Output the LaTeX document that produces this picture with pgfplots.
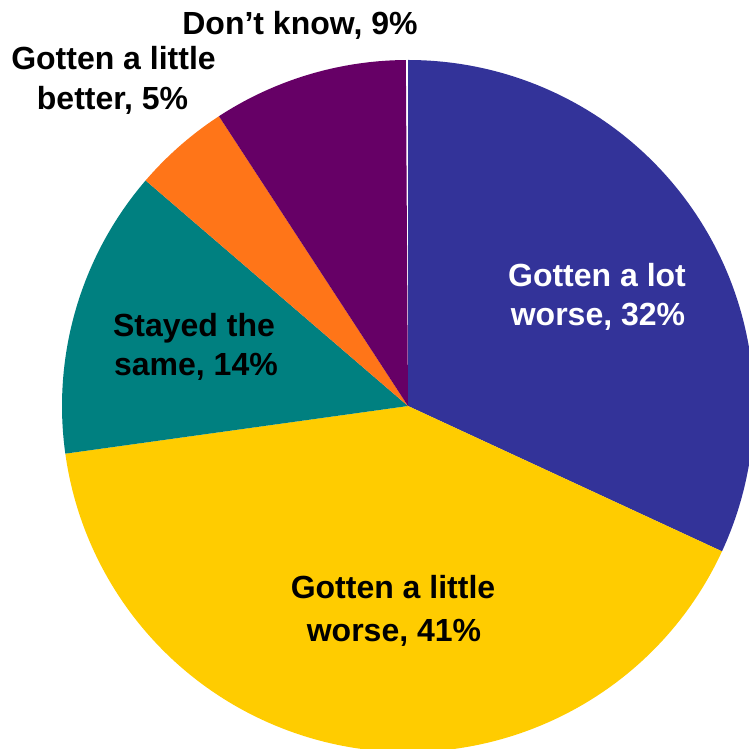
\documentclass[border=0pt]{standalone}
\usepackage{pgfplots}
\pgfplotsset{compat=1.18}
\usepackage{pgfplotstable}
\usepackage{fontspec}
\setmainfont{Liberation Sans}
\definecolor{clot}{HTML}{333399}
\definecolor{clittle}{HTML}{FFCC00}
\definecolor{csame}{HTML}{008080}
\definecolor{cbetter}{HTML}{FF7518}
\definecolor{cdk}{HTML}{660066}
\pgfplotstableread{
idx value
0 31.9
1 40.9
2 13.5
3 4.5
4 9.1
}\piedata
\begin{document}
\begin{tikzpicture}
\pgfplotstablegetelem{0}{value}\of\piedata \let\vA\pgfplotsretval
\pgfplotstablegetelem{1}{value}\of\piedata \let\vB\pgfplotsretval
\pgfplotstablegetelem{2}{value}\of\piedata \let\vC\pgfplotsretval
\pgfplotstablegetelem{3}{value}\of\piedata \let\vD\pgfplotsretval
\pgfplotstablegetelem{4}{value}\of\piedata \let\vE\pgfplotsretval
\pgfmathsetmacro\aA{90}
\pgfmathsetmacro\aB{\aA-3.6*\vA}
\pgfmathsetmacro\aC{\aB-3.6*\vB}
\pgfmathsetmacro\aD{\aC-3.6*\vC}
\pgfmathsetmacro\aE{\aD-3.6*\vD}
\pgfmathsetmacro\aF{\aE-3.6*\vE}
\def\R{346pt}
\useasboundingbox (0,0) rectangle (749pt,749pt);
\begin{axis}[
  at={(0,0)}, anchor=south west,
  scale only axis, width=749pt, height=749pt,
  xmin=0, xmax=749, ymin=0, ymax=749,
  hide axis, clip=true,
]
\fill[clot] (axis cs:408,343) -- ++(\aA:\R) arc[start angle=\aA, end angle=\aB, radius=\R] -- cycle;
\fill[clittle] (axis cs:408,343) -- ++(\aB:\R) arc[start angle=\aB, end angle=\aC, radius=\R] -- cycle;
\fill[csame] (axis cs:408,343) -- ++(\aC:\R) arc[start angle=\aC, end angle=\aD, radius=\R] -- cycle;
\fill[cbetter] (axis cs:408,343) -- ++(\aD:\R) arc[start angle=\aD, end angle=\aE, radius=\R] -- cycle;
\fill[cdk] (axis cs:408,343) -- ++(\aE:\R) arc[start angle=\aE, end angle=\aF, radius=\R] -- cycle;
\end{axis}
\begin{scope}[every node/.style={font=\fontsize{32}{38}\selectfont\bfseries, anchor=base, inner sep=0pt}]
\node at (300pt,714pt) {Don’t know, 9\%};
\node at (113.5pt,679pt) {Gotten a little};
\node at (112.5pt,639pt) {better, 5\%};
\node at (194pt,412pt) {Stayed the};
\node at (196pt,373pt) {same, 14\%};
\node[text=white] at (597pt,462pt) {Gotten a lot};
\node[text=white] at (598pt,423pt) {worse, 32\%};
\node at (393pt,150pt) {Gotten a little};
\node at (394pt,107pt) {worse, 41\%};
\end{scope}
\end{tikzpicture}
\end{document}
